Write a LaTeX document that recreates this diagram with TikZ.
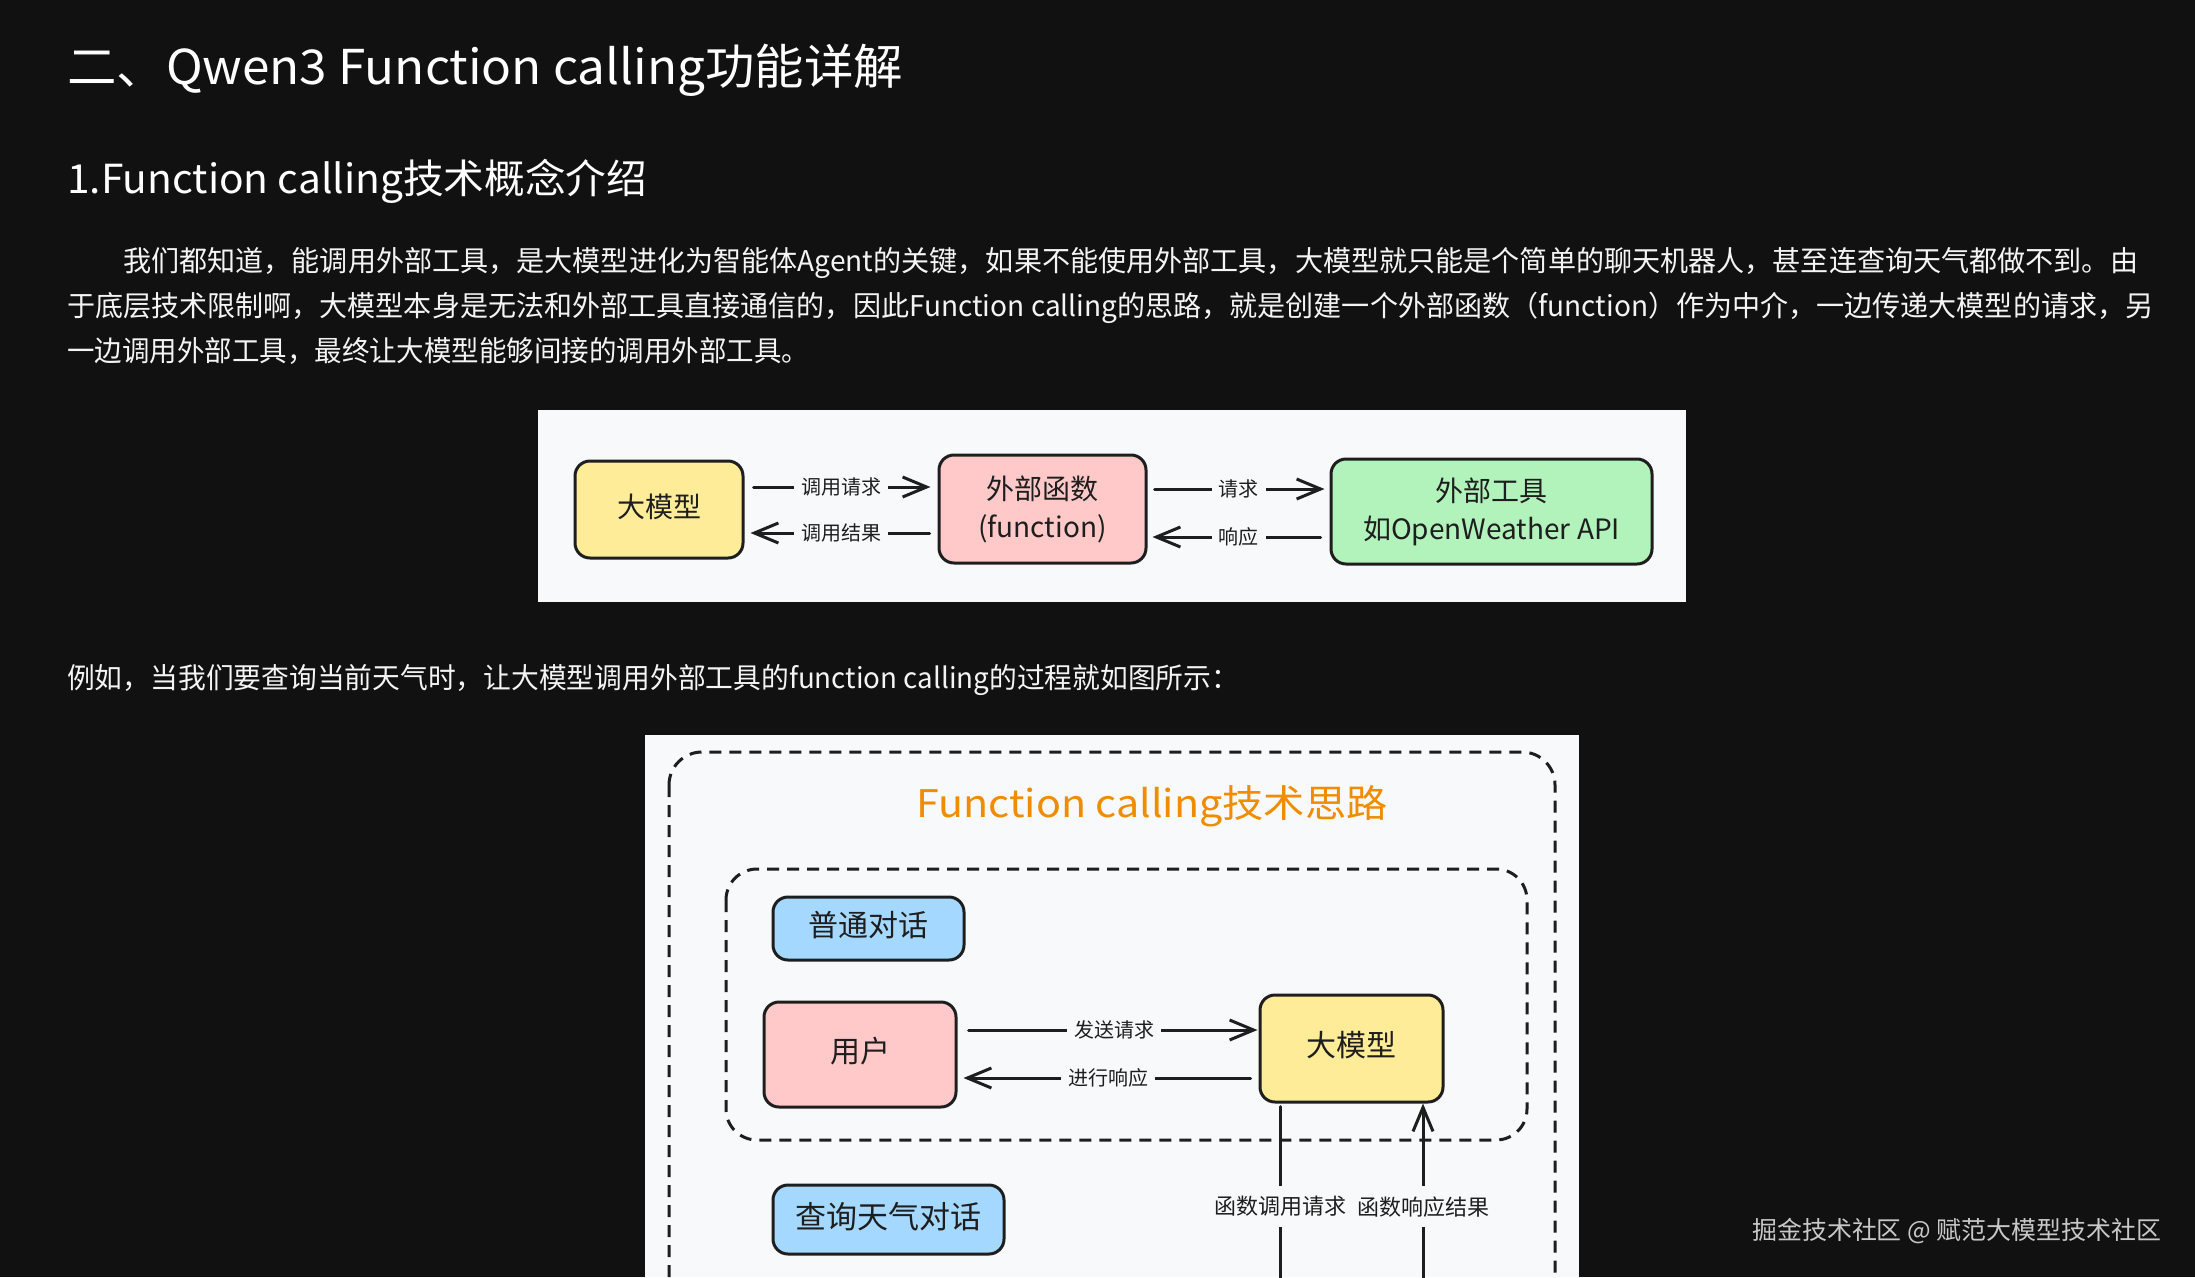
\documentclass[tikz,border=0pt]{standalone}
\usepackage{fontspec}
\usepackage{graphicx}
\setmainfont{Noto Sans CJK SC}
\usetikzlibrary{arrows.meta}
\definecolor{pagebg}{HTML}{111111}
\definecolor{paper}{HTML}{F8F9FA}
\definecolor{ink}{HTML}{1E1E1E}
\definecolor{ylw}{HTML}{FFEC99}
\definecolor{pnk}{HTML}{FFC9C9}
\definecolor{grn}{HTML}{B2F2BB}
\definecolor{blu}{HTML}{A5D8FF}
\definecolor{orng}{HTML}{F08C00}
\definecolor{txtw}{HTML}{F4F4F4}
\definecolor{wmark}{HTML}{C8C8C8}
\newcommand\fszz[2]{\fontsize{#1}{#2}\selectfont}
\newcommand\fitw[2]{\resizebox{#1}{\height}{#2}}
\newcommand\upt[1]{\raisebox{3pt}[\height][\depth]{#1}}
\begin{document}
\begin{tikzpicture}[x=1pt,y=-1pt,
  ptext/.style={inner sep=0pt, anchor=base west, text=txtw},
  box/.style={draw=ink, line width=3pt, rounded corners=15pt, inner sep=0pt, text=ink, align=center},
  conn/.style={draw=ink, line width=3pt, line cap=round},
  arr/.style={conn, -{Straight Barb[length=24pt,width=20pt]}},
  lbl/.style={fill=paper, inner xsep=7pt, inner ysep=2pt, text=ink, font=\fszz{20}{24}},
  lbltwo/.style={fill=paper, inner xsep=1pt, inner ysep=10pt, text=ink, font=\fszz{22}{26}},
  dashbox/.style={draw=ink, line width=3pt, dash pattern=on 12pt off 8pt, rounded corners=33pt}]
\fill[pagebg] (0,0) rectangle (2195,1277);
\useasboundingbox (0,0) rectangle (2195,1277);

% page text
\node[ptext, font=\fszz{48}{56}, text=white] (h1) at (67,84) {\fitw{836pt}{二、Qwen3 Function calling功能详解}};
\node[ptext, font=\fszz{40}{48}, text=white] (h2) at (67,193) {\fitw{580pt}{1.Function calling技术概念介绍}};
\node[ptext, font=\fszz{28.5}{34}] (p1) at (123,271) {\fitw{2015pt}{我们都知道，能调用外部工具，是大模型进化为智能体Agent的关键，如果不能使用外部工具，大模型就只能是个简单的聊天机器人，甚至连查询天气都做不到。由}};
\node[ptext, font=\fszz{28.5}{34}] (p2) at (67,316) {\fitw{2086pt}{于底层技术限制啊，大模型本身是无法和外部工具直接通信的，因此Function calling的思路，就是创建一个外部函数（function）作为中介，一边传递大模型的请求，另}};
\node[ptext, font=\fszz{28.5}{34}] (p3) at (67,361) {\fitw{742pt}{一边调用外部工具，最终让大模型能够间接的调用外部工具。}};
\node[ptext, font=\fszz{28.5}{34}] (p4) at (67,688) {\fitw{1172pt}{例如，当我们要查询当前天气时，让大模型调用外部工具的function calling的过程就如图所示：}};

% diagram 1
\fill[paper] (538,410) rectangle (1686,602);
\node[box, fill=ylw, minimum width=168pt, minimum height=97pt, font=\fszz{28}{38}] (llmA) at (659,509.5) {\upt{大模型}};
\node[box, fill=pnk, minimum width=207pt, minimum height=108pt, font=\fszz{28}{38}] (fn) at (1042.5,509) {外部函数\\(function)};
\node[box, fill=grn, minimum width=321pt, minimum height=105pt, font=\fszz{28}{38}] (tool) at (1491.5,511.5) {外部工具\\如OpenWeather API};
\draw[arr, shorten <=9pt, shorten >=7pt] (llmA.east |- 0,487) -- node[lbl]{调用请求} (fn.west |- 0,487);
\draw[arr, shorten <=8pt, shorten >=6pt] (fn.west |- 0,533) -- node[lbl]{调用结果} (llmA.east |- 0,533);
\draw[arr, shorten <=7pt, shorten >=5pt] (fn.east |- 0,489) -- node[lbl]{请求} (tool.west |- 0,489);
\draw[arr, shorten <=9pt, shorten >=5pt] (tool.west |- 0,537) -- node[lbl]{响应} (fn.east |- 0,537);

% diagram 2
\begin{scope}
\clip (645,735) rectangle (1579,1277);
\fill[paper] (645,735) rectangle (1579,1277);
\draw[dashbox] (669,752) rectangle (1555,1420);
\node[inner sep=0pt, text=orng, font=\fszz{38}{44}] (t2) at (1152,806) {\fitw{471pt}{Function calling技术思路}};
\draw[dashbox, rounded corners=31pt] (726,869) rectangle (1527,1140);
\node[box, fill=blu, minimum width=191pt, minimum height=63pt, font=\fszz{30}{36}] (chat) at (868.5,928.5) {\upt{普通对话}};
\node[box, fill=pnk, minimum width=192pt, minimum height=105pt, font=\fszz{30}{36}] (user) at (860,1054.5) {\upt{用户}};
\node[box, fill=ylw, minimum width=183pt, minimum height=107pt, font=\fszz{30}{36}] (llmB) at (1351.5,1048.5) {\upt{大模型}};
\node[box, fill=blu, minimum width=231pt, minimum height=69pt, font=\fszz{31}{36}] (wchat) at (888.5,1219.5) {\upt{查询天气对话}};
\draw[arr, shorten <=11pt, shorten >=1pt] (user.east |- 0,1030) -- node[lbl, pos=0.52]{发送请求} (llmB.west |- 0,1030);
\draw[arr, shorten <=8pt, shorten >=6pt] (llmB.west |- 0,1078) -- node[lbl]{进行响应} (user.east |- 0,1078);
\coordinate (callend) at (1280,1290);
\coordinate (respstart) at (1423,1290);
\draw[conn, shorten <=3pt] (llmB.south -| callend) -- node[lbltwo, pos=0.553]{函数调用请求} (callend);
\draw[arr] (respstart) -- node[lbltwo, pos=0.447]{函数响应结果} (llmB.south -| respstart);
\end{scope}

% watermark
\node[ptext, text=wmark, font=\fszz{25}{30}] (wm) at (1752,1239) {\fitw{409pt}{掘金技术社区 @ 赋范大模型技术社区}};
\end{tikzpicture}
\end{document}
